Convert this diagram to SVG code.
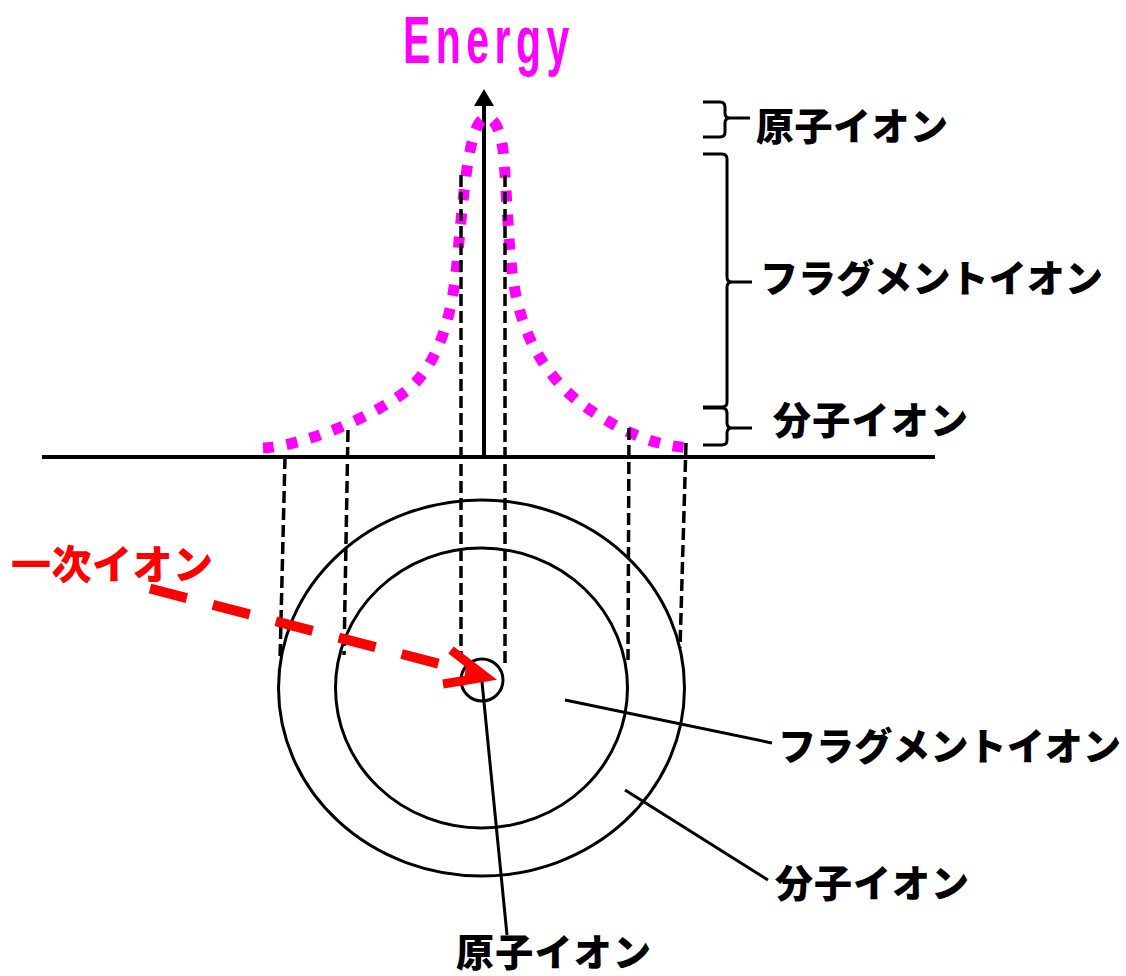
<svg xmlns="http://www.w3.org/2000/svg" width="1126" height="976" viewBox="0 0 1126 976">
<defs>
<style>
.jp{font-family:"Noto Sans CJK JP","Noto Sans CJK SC",sans-serif;font-weight:900;font-size:38px;fill:#000}
.ln{fill:none;stroke:#000;stroke-width:3}
.dash{fill:none;stroke:#000;stroke-width:3.5;stroke-dasharray:12 5}
.br{fill:none;stroke:#000;stroke-width:3}
</style>
</defs>
<rect width="1126" height="976" fill="#fff"/>
<g id="title">
<text transform="translate(403,63) scale(0.62,1)" x="0" y="0" font-family="Liberation Sans,Arial,sans-serif" font-weight="bold" font-size="66" fill="#ff00ff" textLength="268" lengthAdjust="spacing">Energy</text>
</g>
<g id="axes">
<line x1="42" y1="457" x2="935" y2="457" stroke="#000" stroke-width="4"/>
<line x1="484" y1="457" x2="484" y2="102" stroke="#000" stroke-width="4"/>
<polygon points="484,89 474,106 494,106" fill="#000"/>
</g>
<g id="curve">
<path d="M263,448 C300,446 370,420 410,388 C440,360 452,315 457,263 C462,210 466,160 474,135 C478,122 482,118 487,118 C494,118 500,128 503,150 C507,190 508,250 514,285 C522,335 545,375 580,403 C615,428 650,446 692,448" fill="none" stroke="#ff00ff" stroke-width="11" stroke-dasharray="11 13"/>
</g>
<g id="circles">
<ellipse cx="481.5" cy="688" rx="203" ry="188" class="ln" stroke-width="3.5"/>
<ellipse cx="481.5" cy="688" rx="146" ry="140" class="ln" stroke-width="3.5"/>
<circle cx="482" cy="680" r="21" class="ln" stroke-width="3.5"/>
</g>
<g id="connectors">
<line x1="285" y1="457" x2="280" y2="660" class="dash"/>
<line x1="348" y1="430" x2="344" y2="655" class="dash"/>
<line x1="461" y1="175" x2="461" y2="660" class="dash"/>
<line x1="505" y1="175" x2="505" y2="664" class="dash"/>
<line x1="629" y1="428" x2="628" y2="660" class="dash"/>
<line x1="686" y1="443" x2="680" y2="648" class="dash"/>
<line x1="565" y1="700" x2="772" y2="743" class="ln"/>
<line x1="625" y1="790" x2="768" y2="880" class="ln"/>
<line x1="482" y1="682" x2="507" y2="935" class="ln"/>
<path d="M703,102 H720 Q725,102 725,107 V113 Q725,118 730,118 H750 M730,118 Q725,118 725,123 V132 Q725,137 720,137 H703" class="br"/>
<path d="M703,154 H722 Q727,154 727,159 V277 Q727,282 732,282 H752 M732,282 Q727,282 727,287 V402 Q727,407 722,407 H703" class="br"/>
<path d="M703,408 H722 Q727,408 727,413 V423 Q727,428 732,428 H752 M732,428 Q727,428 727,433 V440 Q727,445 722,445 H703" class="br"/>
</g>
<g id="primary-ion">
<line x1="150" y1="588.5" x2="440" y2="664" stroke="#ff0000" stroke-width="10" stroke-dasharray="38 27"/>
<polyline points="451,650 486,677 443,684" fill="none" stroke="#ff0000" stroke-width="9" stroke-linejoin="miter"/>
<polygon points="466,665 489,677 464,681" fill="#ff0000"/>
<text x="11" y="579" class="jp" style="fill:#ff0000;font-size:40px" textLength="202" lengthAdjust="spacing">一次イオン</text>
</g>
<g id="label-atom-top"><text x="756" y="140" class="jp" textLength="192" lengthAdjust="spacing">原子イオン</text></g>
<g id="label-frag-top"><text x="760" y="292" class="jp" textLength="343" lengthAdjust="spacing">フラグメントイオン</text></g>
<g id="label-mol-top"><text x="773" y="434" class="jp" textLength="195" lengthAdjust="spacing">分子イオン</text></g>
<g id="label-frag-bottom"><text x="778" y="760" class="jp" textLength="343" lengthAdjust="spacing">フラグメントイオン</text></g>
<g id="label-mol-bottom"><text x="775" y="897" class="jp" textLength="194" lengthAdjust="spacing">分子イオン</text></g>
<g id="label-atom-bottom"><text x="456" y="966" class="jp" textLength="195" lengthAdjust="spacing">原子イオン</text></g>
</svg>
